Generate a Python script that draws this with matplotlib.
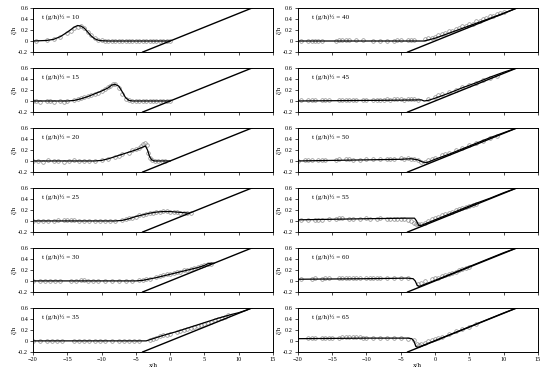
import matplotlib
matplotlib.use("Agg")
import matplotlib.pyplot as plt

plt.rcParams["font.family"] = ["Liberation Serif", "DejaVu Serif"]

# beach slope (same in every panel)
beach_x = [-4, 12]
beach_y = [-0.2, 0.6]

times = [10, 15, 20, 25, 30, 35, 40, 45, 50, 55, 60, 65]

# numerical (line) profiles
t10_line_x = [-20, -18, -17, -16, -15, -14, -13.5, -13, -12.5, -12, -11.5, -11, -10.5, -10, -9, 0]
t10_line_y = [0, 0.01, 0.03, 0.08, 0.16, 0.25, 0.28, 0.27, 0.23, 0.16, 0.09, 0.04, 0.015, 0.005, 0, 0]
t15_line_x = [-20, -15, -14, -13, -12, -11, -10, -9, -8.5, -8, -7.5, -7, -6.5, -6, -5.5, 0]
t15_line_y = [0, 0, 0.01, 0.04, 0.08, 0.13, 0.18, 0.24, 0.29, 0.30, 0.27, 0.17, 0.06, 0.01, 0, 0]
t20_line_x = [-20, -11, -10, -9, -8, -7, -6, -5, -4, -3.6, -3.3, -3.0, -2.7, -2.3, 0]
t20_line_y = [0, 0, 0.01, 0.04, 0.08, 0.12, 0.16, 0.20, 0.25, 0.27, 0.20, 0.08, 0.02, 0, 0]
t25_line_x = [-20, -8, -7, -6, -5, -4, -3, -2, -1, 0, 1, 2, 2.8]
t25_line_y = [0, 0, 0.01, 0.04, 0.08, 0.11, 0.14, 0.16, 0.17, 0.17, 0.16, 0.15, 0.14]
t30_line_x = [-20, -5, -4, -2, 0, 2, 4, 5, 5.5, 6, 6.4]
t30_line_y = [0, 0, 0.01, 0.06, 0.12, 0.18, 0.24, 0.28, 0.31, 0.32, 0.32]
t35_line_x = [-20, -3.5, -3, -1, 1, 3, 5, 7, 9, 10, 11, 12]
t35_line_y = [0, 0, 0.02, 0.10, 0.17, 0.25, 0.33, 0.41, 0.48, 0.51, 0.55, 0.6]
t40_line_x = [-20, -2, -1.6, 0, 2, 4, 6, 8, 10, 12]
t40_line_y = [0, 0, 0.0, 0.05, 0.14, 0.23, 0.32, 0.41, 0.50, 0.6]
t45_line_x = [-20, -10, -5, -2, -1.6, -1, 0, 2, 4, 6, 8, 10, 12]
t45_line_y = [0, 0.01, 0.015, 0.02, 0.0, 0.01, 0.05, 0.14, 0.24, 0.33, 0.43, 0.52, 0.6]
t50_line_x = [-20, -10, -5, -3.5, -2.5, -1.8, -1.2, 0, 2, 4, 6, 8, 10, 12]
t50_line_y = [0, 0.02, 0.03, 0.04, 0.02, -0.02, -0.03, 0.03, 0.12, 0.22, 0.32, 0.42, 0.51, 0.6]
t55_line_x = [-20, -10, -4, -3, -2.7, -2.4, -2, 0, 2, 4, 6, 8, 10, 12]
t55_line_y = [0.02, 0.04, 0.05, 0.05, 0.0, -0.08, -0.08, 0.02, 0.12, 0.22, 0.32, 0.41, 0.51, 0.6]
t60_line_x = [-20, -10, -4, -3.2, -2.9, -2.6, -2.3, 0, 2, 4, 6, 8, 10, 12]
t60_line_y = [0.03, 0.04, 0.05, 0.04, 0.0, -0.08, -0.10, 0.01, 0.11, 0.21, 0.31, 0.41, 0.51, 0.6]
t65_line_x = [-20, -10, -4, -3.4, -3.1, -2.8, -2.5, 0, 2, 4, 6, 8, 10, 12]
t65_line_y = [0.04, 0.05, 0.05, 0.04, 0.0, -0.10, -0.12, 0.005, 0.105, 0.205, 0.305, 0.405, 0.505, 0.6]

# measured (circles)
t10_obs_x = [-19.5, -18, -17, -16, -15, -14.5, -14, -13.5, -13, -12.5, -12, -11.5, -11, -10.5, -10, -9.5, -9,
             -8.5, -8, -7.5, -7, -6.5, -6, -5.5, -5, -4.5, -4, -3.5, -3, -2.5, -2, -1.5, -1, -0.5, 0]
t10_obs_y = [0.0, 0.01, 0.03, 0.07, 0.14, 0.19, 0.23, 0.26, 0.27, 0.24, 0.17, 0.10, 0.05, 0.02, 0.01, 0.0, 0.0,
             0.0, 0.0, 0.0, 0.0, 0.0, 0.0, 0.0, 0.0, 0.0, 0.0, 0.0, 0.0, 0.0, 0.0, 0.0, 0.0, 0.0, 0.0]
t15_obs_x = [-20, -19.5, -19, -18, -17.5, -17, -16, -15.5, -15, -14, -13.5, -13, -12.5, -12, -11.5, -11, -10.5,
             -10, -9.5, -9, -8.7, -8.3, -8, -7.5, -7, -6.5, -6, -5.5, -5, -4.5, -4, -3.5, -3, -2.5, -2, -1.5,
             -1, -0.5, 0]
t15_obs_y = [0, 0, -0.01, 0, 0, -0.01, 0, -0.01, 0, 0.01, 0.03, 0.05, 0.07, 0.09, 0.11, 0.13, 0.15,
             0.18, 0.21, 0.25, 0.28, 0.31, 0.30, 0.24, 0.13, 0.04, 0.01, 0, 0, 0, 0, 0, 0, 0, 0, 0,
             0, 0, 0]
t20_obs_x = [-20, -19.3, -18.5, -17.8, -17, -16.3, -15.5, -14.8, -14, -13.3, -12.5, -11.8, -11, -10, -9, -8,
             -7.5, -7, -6, -5.5, -5, -4.5, -4.2, -3.9, -3.6, -3.4, -3.2, -3.0, -2.7, -2.2, -1.7, -1.2, -0.7]
t20_obs_y = [0, 0, -0.01, 0.01, 0, 0, -0.01, 0, 0.01, 0, 0, 0, 0, 0.01, 0.03, 0.07,
             0.09, 0.12, 0.15, 0.19, 0.21, 0.23, 0.27, 0.30, 0.32, 0.28, 0.15, 0.05, 0.01, 0, 0, 0, 0]
t25_obs_x = [-20, -19.3, -18.5, -17.8, -17, -16.3, -15.5, -15, -14.5, -14, -13.3, -12.5, -11.8, -11, -10.3,
             -9.5, -8.8, -8, -7, -6.5, -6, -5.5, -5, -4.5, -4, -3.5, -3, -2.5, -2, -1.5, -1, -0.5, 0, 0.5,
             1, 1.5, 2, 2.5, 3]
t25_obs_y = [0, 0, 0, 0, 0, 0.01, 0.01, 0.02, 0.02, 0.01, 0, 0, 0, 0, 0, 0, 0, 0, 0.01, 0.03, 0.05, 0.06,
             0.08, 0.10, 0.11, 0.12, 0.14, 0.15, 0.16, 0.17, 0.18, 0.18, 0.17, 0.17, 0.16, 0.15, 0.15,
             0.14, 0.15]
t30_obs_x = [-20, -19, -18.3, -17.5, -16.8, -16, -14.5, -13.8, -13, -12.5, -12, -11.3, -10.5, -9.5, -8.5, -7.5,
             -6.5, -5.5, -4.5, -4, -3.5, -3, -2, -1.5, -1, -0.5, 0, 0.5, 1, 1.5, 2, 2.5, 3, 3.5, 4, 4.5, 5,
             5.5, 6]
t30_obs_y = [0, 0, 0, 0, 0, 0, 0, 0, 0.01, 0.01, 0, 0, 0, 0, 0, 0,
             0, 0, 0.01, 0.02, 0.03, 0.04, 0.07, 0.09, 0.10, 0.12, 0.13, 0.14, 0.16, 0.17, 0.19, 0.20, 0.22,
             0.23, 0.25, 0.27, 0.28, 0.30, 0.31]
t35_obs_x = [-20, -19, -18, -17.3, -16.5, -15.8, -14, -13.3, -12.5, -11.8, -11, -10.3, -9.5, -8.5, -7.5,
             -6.8, -6, -5.3, -4.5, -3, -2.5, -2, -1.5, -1, -0.5, 0, 1, 1.5, 2, 2.5, 3, 3.5, 4, 4.5, 5, 5.5, 6,
             6.5, 7, 7.5, 8, 8.5]
t35_obs_y = [0, 0, 0, -0.01, 0, 0, 0, 0, 0, 0, 0, 0, 0, 0, 0, 0, -0.01, 0, 0, 0.02, 0.04, 0.06, 0.08, 0.10,
             0.11, 0.13, 0.16, 0.18, 0.20, 0.22, 0.24, 0.25, 0.27, 0.29, 0.31, 0.33, 0.35, 0.37, 0.40, 0.42,
             0.44, 0.46]
t40_obs_x = [-19.5, -18.5, -18, -17.5, -17, -16.5, -14.5, -14, -13.5, -13, -12.5, -11.5, -10.5, -9, -8, -7,
             -6, -5.5, -5, -4, -3.5, -3, -1.5, -1, -0.5, 0, 0.5, 1, 1.5, 2, 2.5, 3, 3.5, 4, 4.5, 5, 5.5, 6,
             6.5, 7, 7.5, 8, 8.5, 9, 9.5, 10]
t40_obs_y = [0, 0, 0, 0, 0, 0, 0, 0.01, 0.01, 0.01, 0.01, 0.01, 0.01, 0, 0, 0, 0, 0.01, 0.01, 0.01, 0.01,
             0.02, 0.03, 0.05, 0.06, 0.08, 0.10, 0.13, 0.15, 0.18, 0.19, 0.21, 0.23, 0.27, 0.28, 0.30, 0.31,
             0.36, 0.37, 0.39, 0.41, 0.45, 0.46, 0.48, 0.50, 0.53]
t45_obs_x = [-19.5, -18.5, -18, -17.5, -16.5, -16, -15.5, -14, -13.5, -13, -12.5, -12, -11.5, -10.5, -10,
             -9, -8.5, -8, -7.5, -7, -6.5, -6, -5.5, -5, -4.5, -4, -3.5, -3, -2.5, -1, 0, 0.5, 1, 2, 3, 4, 5,
             6, 7, 8, 9]
t45_obs_y = [0.02, 0.01, 0.01, 0.01, 0.01, 0.01, 0.01, 0.01, 0.02, 0.02, 0.02, 0.02, 0.02, 0.02, 0.01,
             0.02, 0.02, 0.02, 0.02, 0.03, 0.02, 0.03, 0.03, 0.03, 0.02, 0.03, 0.03, 0.03, 0.02, 0.04, 0.08,
             0.10, 0.12, 0.16, 0.20, 0.25, 0.29, 0.33, 0.38, 0.42, 0.46]
t50_obs_x = [-20, -19, -18.5, -18, -17, -16.5, -16, -14.5, -14, -13, -12.5, -12, -11, -10, -9, -8, -7, -6.5,
             -6, -5, -4.5, -4, -3.5, -3, -2.5, -2, -1.5, -1, -0.5, 0, 1, 1.5, 2, 3, 4, 5, 6, 7, 8, 9]
t50_obs_y = [0, 0.01, 0.01, 0.01, 0.01, 0.02, 0.01, 0.02, 0.03, 0.03, 0.03, 0.02, 0.02, 0.03, 0.03, 0.03,
             0.04, 0.04, 0.04, 0.05, 0.04, 0.05, 0.04, 0.03, 0.01, -0.01, -0.01, 0.02, 0.04, 0.06, 0.10,
             0.12, 0.14, 0.19, 0.24, 0.28, 0.33, 0.37, 0.42, 0.46]
t55_obs_x = [-19.5, -18.5, -17.5, -17, -16.5, -15.5, -14.5, -14, -13.5, -12.5, -12, -11, -10, -9.5, -8.5, -8,
             -7, -6.5, -6, -5.5, -5, -4.5, -4, -3.5, -3, -2.8, -2.5, -2, -1.5, -1, -0.5, 0, 0.5, 1, 1.5, 2,
             2.5, 3, 3.5, 4, 4.5, 5, 5.5, 6]
t55_obs_y = [0.01, 0.01, 0.02, 0.02, 0.02, 0.03, 0.04, 0.05, 0.05, 0.04, 0.04, 0.04, 0.05, 0.04, 0.04, 0.05,
             0.04, 0.04, 0.04, 0.04, 0.03, 0.03, 0.02, 0.0, -0.03, -0.05, -0.06, -0.05, -0.03, 0.0, 0.03,
             0.05, 0.07, 0.10, 0.12, 0.14, 0.16, 0.19, 0.21, 0.23, 0.25, 0.27, 0.29, 0.31]
t60_obs_x = [-19.5, -18, -17.5, -16.5, -16, -15.5, -14, -13.5, -13, -12.5, -12, -11.5, -11, -10, -9.5, -9,
             -8.5, -8, -7, -6, -5, -4, -2.5, -2, -1.5, -0.5, 0, 0.5, 1, 1.5, 2, 2.5, 3, 3.5, 4, 4.5, 5]
t60_obs_y = [0.04, 0.04, 0.05, 0.04, 0.05, 0.05, 0.05, 0.06, 0.06, 0.06, 0.06, 0.05, 0.06, 0.05, 0.06, 0.06,
             0.05, 0.06, 0.05, 0.05, 0.05, 0.05, -0.05, -0.03, 0.0, 0.03, 0.05, 0.06, 0.09, 0.10, 0.13,
             0.15, 0.17, 0.20, 0.22, 0.24, 0.26]
t65_obs_x = [-18.5, -18, -17.5, -16.5, -16, -15.5, -15, -14, -13.5, -13, -12.5, -12, -11.5, -11, -10.5, -10,
             -9, -8, -7, -6, -5, -4, -3, -2.7, -2.3, -2, -1.5, -1, -0.5, 0, 0.5, 1, 2, 3, 4, 5, 6]
t65_obs_y = [0.05, 0.05, 0.06, 0.05, 0.06, 0.06, 0.06, 0.06, 0.07, 0.07, 0.07, 0.07, 0.07, 0.07, 0.06, 0.06,
             0.06, 0.06, 0.06, 0.05, 0.05, 0.04, 0.02, -0.06, -0.08, -0.06, -0.04, -0.01, 0.01, 0.04, 0.05,
             0.07, 0.12, 0.17, 0.22, 0.26, 0.31]

line_x = [t10_line_x, t15_line_x, t20_line_x, t25_line_x, t30_line_x, t35_line_x,
          t40_line_x, t45_line_x, t50_line_x, t55_line_x, t60_line_x, t65_line_x]
line_y = [t10_line_y, t15_line_y, t20_line_y, t25_line_y, t30_line_y, t35_line_y,
          t40_line_y, t45_line_y, t50_line_y, t55_line_y, t60_line_y, t65_line_y]
obs_x = [t10_obs_x, t15_obs_x, t20_obs_x, t25_obs_x, t30_obs_x, t35_obs_x,
         t40_obs_x, t45_obs_x, t50_obs_x, t55_obs_x, t60_obs_x, t65_obs_x]
obs_y = [t10_obs_y, t15_obs_y, t20_obs_y, t25_obs_y, t30_obs_y, t35_obs_y,
         t40_obs_y, t45_obs_y, t50_obs_y, t55_obs_y, t60_obs_y, t65_obs_y]

fig, axes = plt.subplots(6, 2, figsize=(5.5, 3.74), dpi=100)
fig.subplots_adjust(left=0.06, right=0.978, top=0.979, bottom=0.059, wspace=0.104, hspace=0.357)

for i, t in enumerate(times):
    col = i // 6
    row = i % 6
    ax = axes[row, col]
    ax.plot(obs_x[i], obs_y[i], "o", mfc="none", mec="#8a8a8a", ms=2.6, mew=0.5)
    ax.plot(line_x[i], line_y[i], color="black", lw=0.9)
    ax.plot(beach_x, beach_y, color="black", lw=1.0)
    ax.set_xlim(-20, 15)
    ax.set_ylim(-0.2, 0.6)
    ax.set_xticks([-20, -15, -10, -5, 0, 5, 10, 15])
    ax.set_yticks([-0.2, 0, 0.2, 0.4, 0.6])
    ax.set_yticklabels(["-0.2", "0", "0.2", "0.4", "0.6"])
    ax.tick_params(labelsize=4.5, length=2, width=0.5, pad=1.5)
    if row != 5:
        ax.set_xticklabels([])
    else:
        ax.set_xlabel("x/h", fontsize=5, labelpad=1)
    ax.set_ylabel("ζ/h", fontsize=5, labelpad=1)
    for s in ax.spines.values():
        s.set_linewidth(0.7)
    tx = 0.037 if col == 0 else 0.06
    ax.text(tx, 0.75, "t (g/h)½ = %d" % t, transform=ax.transAxes, fontsize=5)

fig.savefig("out.png", dpi=100)
